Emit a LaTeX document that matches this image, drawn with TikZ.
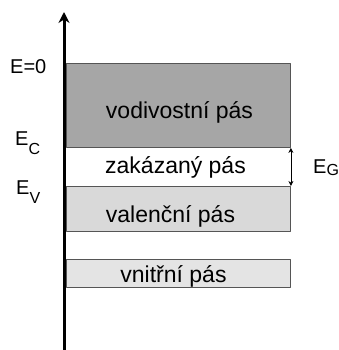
\documentclass[tikz,border=0pt]{standalone}
\usepackage{fontspec}
\setmainfont{Liberation Sans}
\usetikzlibrary{arrows.meta}
\definecolor{vodc}{HTML}{A6A6A6}
\definecolor{valc}{HTML}{D9D9D9}
\definecolor{vnic}{HTML}{E4E4E4}
\definecolor{okraj}{HTML}{555555}
\newcommand\lowidx[2]{\raisebox{-#1}{\fontsize{16}{16}\selectfont #2}}
\begin{document}
\begin{tikzpicture}[x=1pt,y=-1pt,line join=round,>={Stealth[length=11pt,width=11pt]},
	band/.style={draw=okraj,line width=0.9pt,minimum width=224pt,inner sep=0pt,anchor=north west},
	bandtext/.style={anchor=base,inner sep=0pt,font=\fontsize{23}{23}\selectfont},
	level/.style={anchor=base west,inner sep=0pt,font=\fontsize{20}{20}\selectfont}]
	\useasboundingbox (0,0) rectangle (339,350);
	% pasy
	\node[band,fill=vodc,minimum height=84pt] (vod) at (66,63) {};
	\node[band,fill=valc,minimum height=45pt] (val) at (66,186) {};
	\node[band,fill=vnic,minimum height=28pt] (vni) at (66,259) {};
	\node[bandtext] (tvod) at (179.5,118) {vodivostní pás};
	\node[bandtext] (tzak) at (175.5,173) {zakázaný pás};
	\node[bandtext] (tval) at (170.5,222) {valenční pás};
	\node[bandtext] (tvni) at (173.5,282) {vnitřní pás};
	% osa energie
	\coordinate (O) at (64,350);
	\coordinate (T) at (64,12);
	\draw[->,line width=3pt] (O)--(T);
	% hladiny
	\node[level] (E0) at (10,74) {E=0};
	\node[level] (EC) at (15,145) {E\lowidx{9pt}{C}};
	\node[level] (EV) at (16,194) {E\lowidx{9pt}{V}};
	\node[level] (EG) at (313,173) {E\lowidx{2pt}{G}};
	\draw[{Stealth[length=5pt,width=5pt]}-{Stealth[length=5pt,width=5pt]},line width=0.6pt] (vod.south east)--(val.north east);
\end{tikzpicture}
\end{document}
